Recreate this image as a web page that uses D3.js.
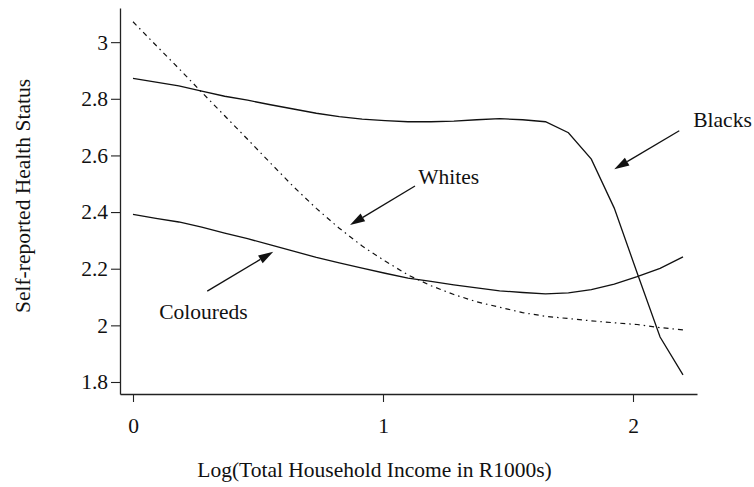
<!DOCTYPE html>
<html>
<head>
<meta charset="utf-8">
<script src="https://cdn.jsdelivr.net/npm/d3@7"></script>
<style>
  html, body { margin: 0; padding: 0; background: #fff; }
  svg { display: block; }
  text { font-family: "Liberation Serif", "Times New Roman", serif; fill: #111; }
</style>
</head>
<body>
<svg id="chart" width="754" height="487"></svg>
<script>
// Evaluation grid for log income (25 points from 0 to 2.2)
const incomeGrid = d3.range(25).map(i => +(i * 2.2 / 24).toFixed(4));

// Smoothed self-reported health status by population group
const blacks = [2.872, 2.859, 2.846, 2.827, 2.809, 2.795, 2.779, 2.764, 2.749, 2.737,
                2.728, 2.723, 2.719, 2.719, 2.721, 2.726, 2.730, 2.726, 2.719, 2.680,
                2.587, 2.414, 2.185, 1.959, 1.825];
const coloureds = [2.392, 2.378, 2.365, 2.347, 2.326, 2.306, 2.284, 2.262, 2.240, 2.221,
                   2.202, 2.184, 2.167, 2.155, 2.143, 2.132, 2.122, 2.116, 2.111, 2.115,
                   2.126, 2.146, 2.172, 2.201, 2.242];
const whites = [3.072, 2.989, 2.907, 2.823, 2.740, 2.657, 2.573, 2.490, 2.413, 2.343,
                2.280, 2.227, 2.178, 2.140, 2.109, 2.083, 2.064, 2.045, 2.032, 2.024,
                2.016, 2.009, 2.003, 1.992, 1.984];

const xTicks = [0, 1, 2];
const yTicks = [1.8, 2, 2.2, 2.4, 2.6, 2.8, 3];
const yTickLabels = ["1.8", "2", "2.2", "2.4", "2.6", "2.8", "3"];

// Labels with arrows pointing at each curve (data coordinates)
const groupLabels = ["Blacks", "Whites", "Coloureds"];
const labelPos = [[2.241, 2.701], [1.141, 2.499], [0.105, 2.022]];
const arrowFrom = [[2.185, 2.687], [1.128, 2.492], [0.297, 2.121]];
const arrowTo = [[1.925, 2.551], [0.868, 2.354], [0.561, 2.260]];

const svg = d3.select("#chart");
const FONT = 21.5;

const x = d3.scaleLinear().domain([-0.052, 2.256]).range([120, 697]);
const y = d3.scaleLinear().domain([1.7576, 3.1206]).range([394, 8]);

// Axes
const xAxis = d3.axisBottom(x).tickValues(xTicks).tickFormat(d3.format("d"))
  .tickSize(8).tickSizeOuter(0).tickPadding(16);
const yAxis = d3.axisLeft(y).tickValues(yTicks)
  .tickFormat((d, i) => yTickLabels[i]).tickSize(9).tickSizeOuter(0).tickPadding(3);

const gx = svg.append("g").attr("transform", "translate(0,394)").call(xAxis);
const gy = svg.append("g").attr("transform", "translate(120,0)").call(yAxis);
[gx, gy].forEach(g => {
  g.select(".domain").attr("stroke", "#222").attr("stroke-width", 1.3);
  g.selectAll(".tick line").attr("stroke", "#222").attr("stroke-width", 1.1);
  g.selectAll(".tick text").attr("font-size", FONT)
    .attr("font-family", "Liberation Serif, Times New Roman, serif").attr("fill", "#111");
});

// Axis titles
svg.append("text")
  .attr("x", 374.5).attr("y", 477)
  .attr("text-anchor", "middle").attr("font-size", FONT)
  .text("Log(Total Household Income in R1000s)");
svg.append("text")
  .attr("transform", "translate(29.5,196) rotate(-90)")
  .attr("text-anchor", "middle").attr("font-size", FONT)
  .text("Self-reported Health Status");

// Curves
const line = d3.line().x((d, i) => x(incomeGrid[i])).y(d => y(d));
svg.append("path").datum(blacks).attr("d", line)
  .attr("fill", "none").attr("stroke", "#111").attr("stroke-width", 1.3);
svg.append("path").datum(coloureds).attr("d", line)
  .attr("fill", "none").attr("stroke", "#111").attr("stroke-width", 1.3);
svg.append("path").datum(whites).attr("d", line)
  .attr("fill", "none").attr("stroke", "#111").attr("stroke-width", 1.2)
  .attr("stroke-dasharray", "5,4,1.5,4");

// Annotations
groupLabels.forEach((name, i) => {
  svg.append("text")
    .attr("x", x(labelPos[i][0])).attr("y", y(labelPos[i][1]))
    .attr("font-size", FONT).text(name);

  const x0 = x(arrowFrom[i][0]), y0 = y(arrowFrom[i][1]);
  const x1 = x(arrowTo[i][0]), y1 = y(arrowTo[i][1]);
  const ang = Math.atan2(y1 - y0, x1 - x0);
  const headLen = 15, headHalf = 4.5;
  const bx = x1 - headLen * Math.cos(ang), by = y1 - headLen * Math.sin(ang);
  svg.append("line")
    .attr("x1", x0).attr("y1", y0).attr("x2", bx).attr("y2", by)
    .attr("stroke", "#111").attr("stroke-width", 1.3);
  const px = -Math.sin(ang) * headHalf, py = Math.cos(ang) * headHalf;
  svg.append("polygon")
    .attr("points", [[x1, y1], [bx + px, by + py], [bx - px, by - py]].map(p => p.join(",")).join(" "))
    .attr("fill", "#111");
});
</script>
</body>
</html>
